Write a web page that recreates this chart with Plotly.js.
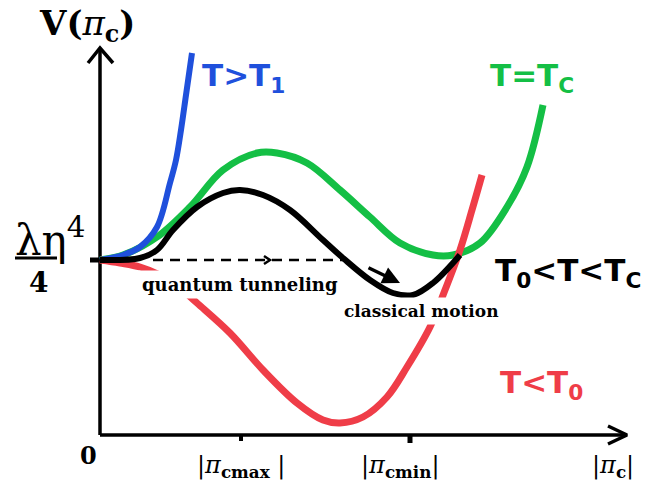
<!DOCTYPE html>
<html>
<head>
<meta charset="utf-8">
<script src="https://cdn.plot.ly/plotly-3.0.1.min.js"></script>
<style>
  html, body { margin: 0; padding: 0; background: #fff; }
  #chart { width: 662px; height: 487px; }
</style>
</head>
<body>
<div id="chart"></div>
<script>
/* potential curves (origin = axes corner) */
var blueX  = [0, 23, 40, 57, 70, 76, 81, 86, 92];
var blueY  = [175, 180, 188, 208, 252, 275, 305, 340, 382];
var greenX = [0, 23, 57, 90, 123, 157, 177, 207, 240, 270, 300, 333, 353, 380, 407, 427, 443];
var greenY = [175, 180, 198, 228, 265, 282, 282, 272, 245, 218, 192, 180, 180, 192, 228, 268, 330];
var blackX = [0, 40, 57, 73, 97, 123, 140, 163, 190, 223, 243, 270, 293, 313, 333, 360];
var blackY = [175, 177, 185, 205, 228, 242, 245, 240, 225, 195, 177, 155, 142, 140, 152, 180];
var redX   = [0, 20, 40, 60, 80, 97, 130, 163, 197, 223, 240, 263, 287, 307, 330, 345, 360, 372, 382];
var redY   = [175, 172, 168, 160, 147, 132, 102, 65, 32, 15, 12, 18, 38, 68, 108, 145, 185, 225, 260];

var levelY = 175;            /* lambda eta^4 / 4 */
var piMax = 141, piMin = 310; /* |pi_c max|, |pi_c min| */
var xEnd = 527, yEnd = 387;  /* axis arrow tips */
var tunnelFrom = 53, tunnelTo = 243, tunnelMark = 170;
var motionFrom = [267, 168], motionTo = [300, 152];

var PI = '<i>π</i>';
var tickLabels = ['|' + PI + '<b><sub>cmax</sub></b> |', '|' + PI + '<b><sub>cmin</sub></b>|', '|' + PI + '<b><sub>c</sub></b>|'];
var tickPos = [piMax, piMin - 10, 513];

var BLUE = '#1f50dc', GREEN = '#14bf45', RED = '#ef3d48', BLACK = '#000';

function line(x, y, color, width, extra) {
  return Object.assign({ x: x, y: y, mode: 'lines', hoverinfo: 'skip', showlegend: false,
    line: { color: color, width: width, shape: 'spline', smoothing: 1 } }, extra || {});
}

var traces = [
  /* axes */
  { x: [0, xEnd], y: [0, 0], mode: 'lines', line: { color: BLACK, width: 3.5 }, hoverinfo: 'skip' },
  { x: [0, 0], y: [0, yEnd], mode: 'lines', line: { color: BLACK, width: 3.5 }, hoverinfo: 'skip' },
  { x: [-12, 0, 13], y: [yEnd - 15, yEnd, yEnd - 15], mode: 'lines', line: { color: BLACK, width: 3.5 }, hoverinfo: 'skip' },
  { x: [xEnd - 19, xEnd, xEnd - 19], y: [9, 0, -9], mode: 'lines', line: { color: BLACK, width: 3.5 }, hoverinfo: 'skip' },
  { x: [piMax, piMax], y: [0, -6], mode: 'lines', line: { color: BLACK, width: 4 }, hoverinfo: 'skip' },
  { x: [piMin, piMin], y: [0, -8], mode: 'lines', line: { color: BLACK, width: 5 }, hoverinfo: 'skip' },
  { x: [-10, 0], y: [levelY, levelY], mode: 'lines', line: { color: BLACK, width: 5 }, hoverinfo: 'skip' },
  /* tunnelling */
  { x: [tunnelFrom, tunnelTo], y: [levelY, levelY], mode: 'lines', line: { color: BLACK, width: 2.5, dash: '10px,7px' }, hoverinfo: 'skip' },
  { x: [tunnelMark - 6, tunnelMark, tunnelMark - 6], y: [levelY + 4, levelY, levelY - 4], mode: 'lines', line: { color: BLACK, width: 2.5 }, hoverinfo: 'skip' },
  /* curves */
  line(greenX, greenY, GREEN, 7),
  line(blueX, blueY, BLUE, 6),
  line(redX, redY, RED, 7),
  line(blackX, blackY, BLACK, 6)
];

function lab(x, y, text, size, color, family, opts) {
  return Object.assign({ x: x, y: y, xref: 'x', yref: 'y', text: text, showarrow: false,
    font: { size: size, color: color, family: family } }, opts || {});
}
var SANS = 'DejaVu Sans', SERIF = 'DejaVu Serif';

var annotations = [
  lab(140, 151, '<b>quantum tunneling</b>', 18, BLACK, SERIF, { bgcolor: '#fff', borderpad: 3 }),
  lab(321, 124, '<b>classical motion</b>', 17, BLACK, SERIF, { bgcolor: '#fff', borderpad: 3 }),
  { x: motionTo[0], y: motionTo[1], ax: motionFrom[0], ay: motionFrom[1], xref: 'x', yref: 'y', axref: 'x', ayref: 'y',
    text: '', showarrow: true, arrowhead: 2, arrowsize: 1, arrowwidth: 3.5, arrowcolor: BLACK },
  lab(100, 358, '<b>T&gt;T<sub>1</sub></b>', 31, BLUE, SANS, { xanchor: 'left' }),
  lab(388, 358, '<b>T=T<sub>C</sub></b>', 31, GREEN, SANS, { xanchor: 'left' }),
  lab(393, 163, '<b>T<sub>0</sub>&lt;T&lt;T<sub>C</sub></b>', 31, BLACK, SANS, { xanchor: 'left' }),
  lab(398, 51, '<b>T&lt;T<sub>0</sub></b>', 31, RED, SANS, { xanchor: 'left' }),
  lab(-13, 410, '<b>V(</b>' + PI + '<b><sub>c</sub>)</b>', 34, BLACK, SERIF),
  lab(-50, 198, 'λη<sup>4</sup>', 42, BLACK, SERIF),
  lab(-62, 153, '<b>4</b>', 28, BLACK, SERIF),
  lab(-12, -20, '<b>0</b>', 24, BLACK, SERIF)
];
tickLabels.forEach(function (t, i) {
  annotations.push(lab(tickPos[i], -31, t, 24, BLACK, SERIF));
});

var layout = {
  width: 662, height: 487,
  margin: { l: 0, r: 0, t: 0, b: 0 },
  paper_bgcolor: '#fff', plot_bgcolor: '#fff',
  showlegend: false,
  xaxis: { range: [-100, 562], visible: false, fixedrange: true },
  yaxis: { range: [-52, 435], visible: false, fixedrange: true },
  shapes: [
    { type: 'line', xref: 'x', yref: 'y', x0: -85, x1: -43, y0: levelY + 2, y1: levelY + 2, line: { color: BLACK, width: 3 } }
  ],
  annotations: annotations
};

Plotly.newPlot('chart', traces, layout, { displayModeBar: false, staticPlot: true });
</script>
</body>
</html>
